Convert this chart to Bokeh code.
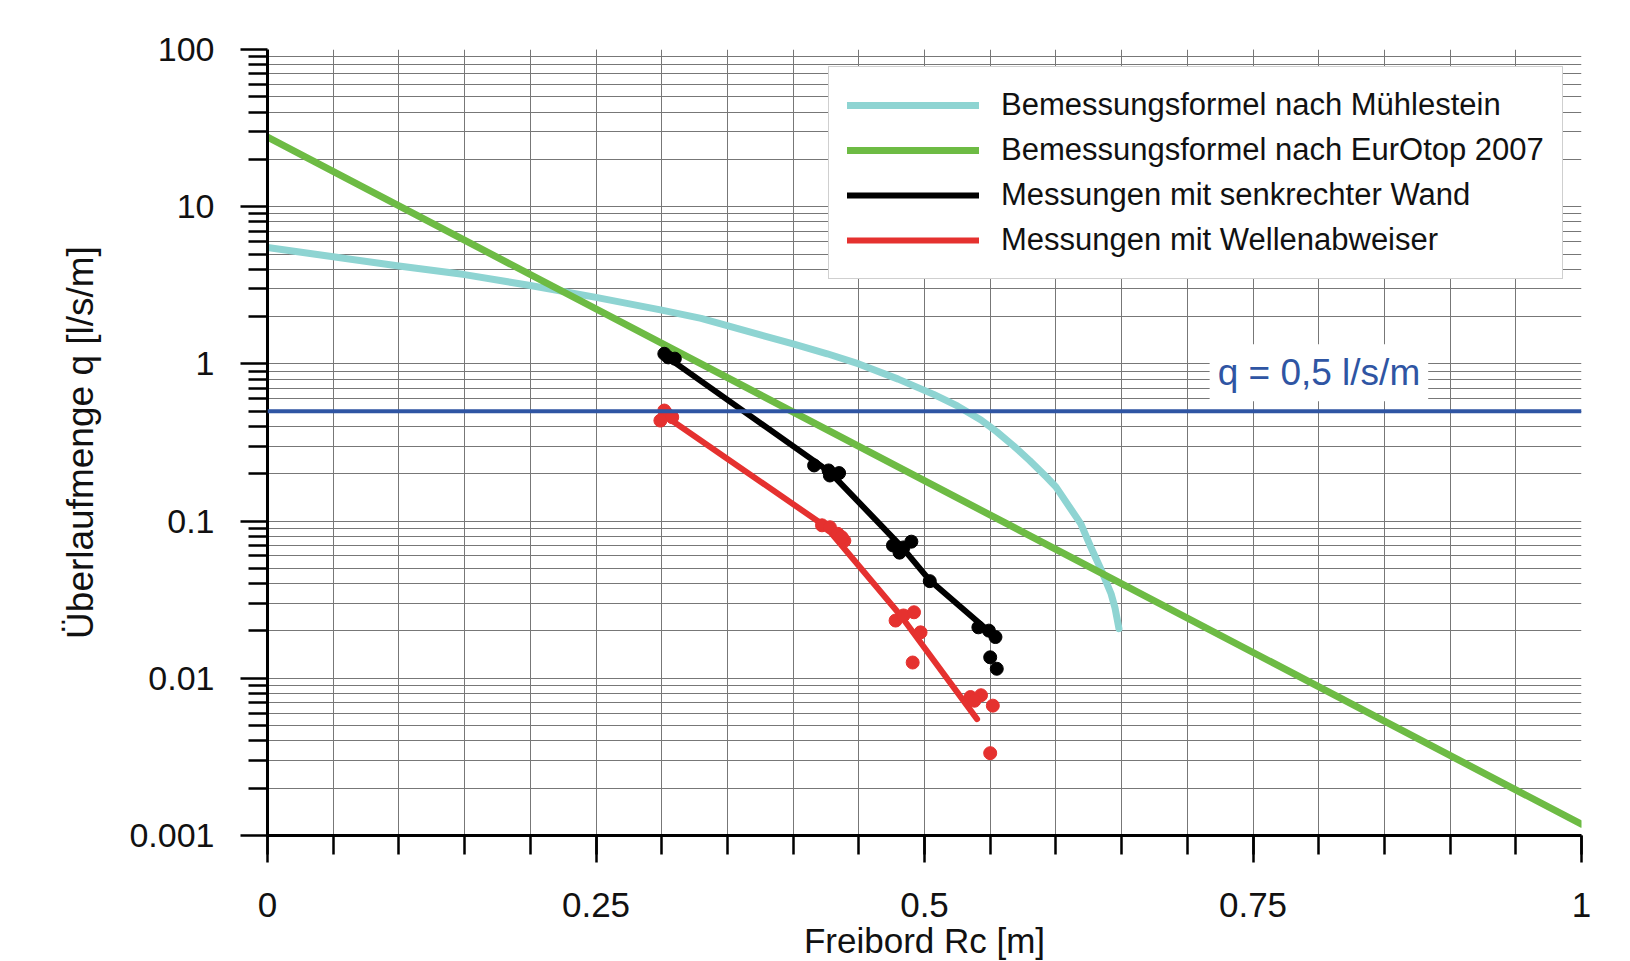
from bokeh.plotting import figure
from bokeh.models import FixedTicker, CustomJSTickFormatter, Range1d, Span, Label
from bokeh.embed import file_html
from bokeh.resources import INLINE

# ---------------- data ----------------
muehlestein_x = [0, 0.05, 0.1, 0.15, 0.2, 0.25, 0.3, 0.33, 0.4, 0.426, 0.45, 0.48,
                 0.507, 0.525, 0.543, 0.555, 0.568, 0.58, 0.593, 0.60, 0.619, 0.626,
                 0.634, 0.642, 0.645, 0.648]
muehlestein_q = [5.5, 4.8, 4.2, 3.7, 3.15, 2.65, 2.2, 1.95, 1.34, 1.16, 1.0, 0.80,
                 0.64, 0.54, 0.44, 0.37, 0.30, 0.243, 0.19, 0.165, 0.096, 0.070,
                 0.050, 0.0345, 0.028, 0.0207]

eurotop_x = [0.0, 1.0]
eurotop_q = [27.7, 0.00118]

wall_x = [0.302, 0.305, 0.310, 0.416, 0.427, 0.428, 0.435, 0.476, 0.481, 0.484,
          0.490, 0.504, 0.541, 0.549, 0.554, 0.550, 0.555]
wall_q = [1.16, 1.10, 1.08, 0.226, 0.210, 0.195, 0.202, 0.070, 0.063, 0.068,
          0.074, 0.0415, 0.0211, 0.0201, 0.0183, 0.0136, 0.0115]
wall_fit_x = [0.303, 0.428, 0.483, 0.504, 0.554]
wall_fit_q = [1.12, 0.205, 0.068, 0.042, 0.0183]

deflector_x = [0.302, 0.304, 0.299, 0.308, 0.422, 0.428, 0.434, 0.439, 0.437, 0.478,
               0.484, 0.492, 0.497, 0.491, 0.535, 0.543, 0.538, 0.552, 0.550]
deflector_q = [0.505, 0.481, 0.436, 0.458, 0.094, 0.0914, 0.083, 0.075, 0.079, 0.0233,
               0.0251, 0.0263, 0.0196, 0.0126, 0.0076, 0.0078, 0.0072, 0.0067, 0.00334]
deflector_fit_x = [0.303, 0.425, 0.482, 0.540]
deflector_fit_q = [0.465, 0.092, 0.025, 0.0055]

q_limit = 0.5
q_limit_text = "q = 0,5 l/s/m"

legend_labels = ["Bemessungsformel nach Mühlestein",
                 "Bemessungsformel nach EurOtop 2007",
                 "Messungen mit senkrechter Wand",
                 "Messungen mit Wellenabweiser"]

x_title = "Freibord Rc [m]"
y_title = "Überlaufmenge q [l/s/m]"

x_major = [0, 0.25, 0.5, 0.75, 1]
x_minor = [round(0.05 * i, 2) for i in range(21)]
y_major = [0.001, 0.01, 0.1, 1, 10, 100]
y_minor = [m * 10.0 ** e for e in range(-3, 2) for m in range(2, 10)]

# ---------------- style ----------------
FONT = "Liberation Sans"
C_CYAN = "#8ed4d2"
C_GREEN = "#6dbb44"
C_BLACK = "#000000"
C_RED = "#e5312f"
C_BLUE = "#2f55a3"
C_GRID = "#777777"

p = figure(frame_width=1314, frame_height=786,
           x_range=Range1d(0, 1), y_range=Range1d(0.001, 100),
           y_axis_type="log",
           min_border_left=267, min_border_right=41,
           min_border_top=49, min_border_bottom=126,
           output_backend="svg", toolbar_location=None)
p.outline_line_color = None
p.background_fill_color = "white"

# axes / ticks
p.xaxis.ticker = FixedTicker(ticks=x_major, minor_ticks=x_minor)
p.yaxis.ticker = FixedTicker(ticks=y_major, minor_ticks=y_minor)
p.xgrid.ticker = p.xaxis[0].ticker
p.ygrid.ticker = p.yaxis[0].ticker
fmt = "return tick.toString();"
p.xaxis.formatter = CustomJSTickFormatter(code=fmt)
p.yaxis.formatter = CustomJSTickFormatter(code=fmt)

for ax in (p.xaxis, p.yaxis):
    ax.axis_line_color = "black"
    ax.axis_line_width = 3
    ax.major_tick_line_color = "black"
    ax.minor_tick_line_color = "black"
    ax.major_tick_line_width = 2.5
    ax.minor_tick_line_width = 2.5
    ax.major_tick_out = 27
    ax.minor_tick_out = 19
    ax.major_tick_in = 0
    ax.minor_tick_in = 0
    ax.major_label_text_font = FONT
    ax.major_label_text_color = "#111111"
    ax.axis_label_text_font = FONT
    ax.axis_label_text_font_style = "normal"
    ax.axis_label_text_color = "#111111"

p.xaxis.major_label_text_font_size = "35px"
p.xaxis.major_label_standoff = 30
p.yaxis.major_label_text_font_size = "34px"
p.yaxis.major_label_standoff = 26

p.yaxis.axis_label = y_title
p.yaxis.axis_label_text_font_size = "37px"
p.yaxis.axis_label_standoff = 25

p.xaxis.axis_label = x_title
p.xaxis.axis_label_text_font_size = "35px"
p.xaxis.axis_label_standoff = 1

for g in (p.xgrid, p.ygrid):
    g.grid_line_color = C_GRID
    g.grid_line_width = 1
    g.minor_grid_line_color = C_GRID
    g.minor_grid_line_width = 1

# q limit
p.add_layout(Span(location=q_limit, dimension="width", line_color=C_BLUE, line_width=4))

# curves
p.line(muehlestein_x, muehlestein_q, line_color=C_CYAN, line_width=7,
       line_cap="round", line_join="round", legend_label=legend_labels[0])
p.line(eurotop_x, eurotop_q, line_color=C_GREEN, line_width=7,
       line_cap="round", legend_label=legend_labels[1])
p.line(wall_fit_x, wall_fit_q, line_color=C_BLACK, line_width=6,
       line_cap="round", line_join="round", legend_label=legend_labels[2])
p.scatter(wall_x, wall_q, size=13, fill_color=C_BLACK, line_color=C_BLACK)
p.line(deflector_fit_x, deflector_fit_q, line_color=C_RED, line_width=6,
       line_cap="round", line_join="round", legend_label=legend_labels[3])
p.scatter(deflector_x, deflector_q, size=13, fill_color=C_RED, line_color=C_RED)

# q label
p.add_layout(Label(x=0.717, y=0.88, text=q_limit_text, text_font=FONT,
                   text_font_size="37px", text_color=C_BLUE, text_baseline="middle",
                   background_fill_color="white", padding=8))

# legend
lg = p.legend[0]
lg.location = (561, 556)
lg.margin = 0
lg.padding = 18
lg.spacing = 5
lg.glyph_width = 132
lg.glyph_height = 40
lg.label_height = 40
lg.label_standoff = 22
lg.label_text_font = FONT
lg.label_text_font_size = "31px"
lg.label_text_color = "#111111"
lg.border_line_color = "#a0a0a0"
lg.border_line_width = 1.5
lg.background_fill_color = "white"
lg.background_fill_alpha = 1.0

open("out.html", "w").write(file_html(p, INLINE))
